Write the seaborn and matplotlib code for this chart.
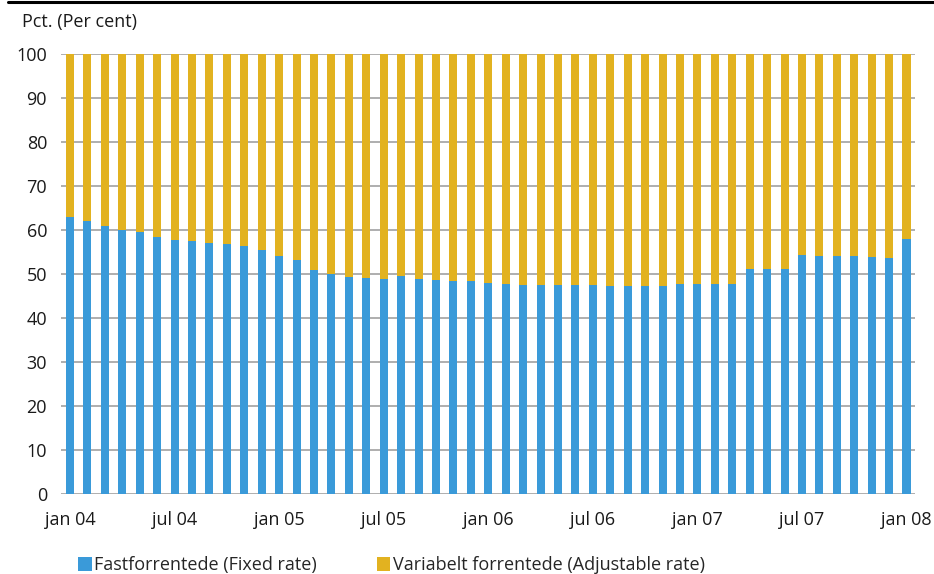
import matplotlib
matplotlib.use("Agg")
import matplotlib.pyplot as plt
from matplotlib.lines import Line2D
from matplotlib.patches import Patch
import pandas as pd
import seaborn as sns

# monthly shares, jan 04 .. jan 08 (49 months)
months = pd.date_range("2004-01-01", "2008-01-01", freq="MS")
fixed_rate = [63.0, 62.0, 60.9, 60.0, 59.5, 58.4, 57.7, 57.5, 57.0, 56.8,
              56.4, 55.5, 54.1, 53.2, 50.9, 50.0, 49.3, 49.1, 48.9, 49.6,
              48.9, 48.7, 48.5, 48.5, 48.0, 47.8, 47.6, 47.6, 47.6, 47.4,
              47.4, 47.3, 47.3, 47.3, 47.3, 47.7, 47.7, 47.7, 47.7, 51.1,
              51.1, 51.1, 54.3, 54.1, 54.1, 54.1, 53.9, 53.6, 58.0]
adjustable_rate = [100 - v for v in fixed_rate]
tick_labels = ["jan 04", "jul 04", "jan 05", "jul 05", "jan 06",
               "jul 06", "jan 07", "jul 07", "jan 08"]

blue = "#3a9ad9"
yellow = "#e2b220"

df = pd.DataFrame({"month": months.strftime("%Y-%m"),
                   "fixed": fixed_rate,
                   "adjustable": adjustable_rate})
df["total"] = df["fixed"] + df["adjustable"]

sns.set_style("white")
plt.rcParams["font.family"] = ["Open Sans", "DejaVu Sans"]

fig = plt.figure(figsize=(9.34, 5.74), dpi=100)
ax = fig.add_axes([0.0653, 0.1394, 0.9144, 0.7665])

sns.barplot(data=df, x="month", y="total", color=yellow, width=0.46,
            saturation=1, linewidth=0, ax=ax, zorder=3)
sns.barplot(data=df, x="month", y="fixed", color=blue, width=0.46,
            saturation=1, linewidth=0, ax=ax, zorder=3)

ax.set_ylim(0, 100)
ax.set_xlim(-0.52, 48.49)
ax.set_yticks(range(0, 101, 10))
ax.set_xticks(range(0, 49, 6))
ax.set_xticklabels(tick_labels)
ax.set_xlabel("")
ax.set_ylabel("")
ax.tick_params(axis="both", length=0, labelsize=13, colors="#1a1a1a")
ax.tick_params(axis="y", pad=10)
ax.tick_params(axis="x", pad=12)
ax.yaxis.grid(True, color="#a8a8a8", linewidth=1.3, zorder=0)
for s in ax.spines.values():
    s.set_visible(False)

fig.text(0.0236, 0.962, "Pct. (Per cent)", fontsize=13, color="#1a1a1a",
         va="center", ha="left")
fig.add_artist(Line2D([0.009, 1.0], [0.9965, 0.9965], color="black",
                      linewidth=2.2, transform=fig.transFigure))

handles = [Patch(facecolor=blue, edgecolor="none"),
           Patch(facecolor=yellow, edgecolor="none")]
fig.legend(handles, ["Fastforrentede (Fixed rate)",
                     "Variabelt forrentede (Adjustable rate)"],
           loc="center left", bbox_to_anchor=(0.076, 0.015), ncol=2,
           frameon=False, fontsize=13, handlelength=0.75, handleheight=0.8,
           handletextpad=0.15, columnspacing=3.3, borderaxespad=0)

fig.savefig("out.png", dpi=100)
